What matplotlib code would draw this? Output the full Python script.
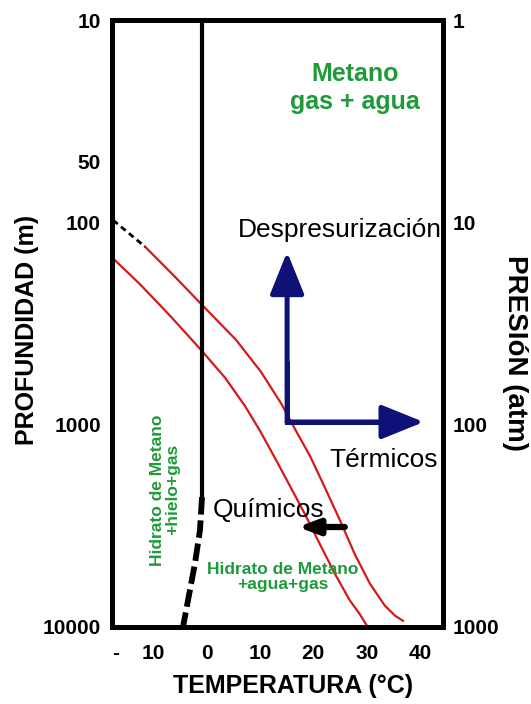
import numpy as np
import matplotlib
matplotlib.use('Agg')
import matplotlib.pyplot as plt

plt.rcParams['font.family'] = ['Liberation Sans', 'DejaVu Sans']

# hydrate stability curves (temperature in C, depth in m)
upper_t = [-11.5, -5.9, -0.1, 5.5, 10.2, 14.0, 16.8, 19.4, 22.2, 25.0, 27.8, 30.6, 33.4, 35.3, 36.8]
upper_d = [132, 186, 268, 380, 548, 787, 1078, 1430, 2052, 2970, 4380, 6100, 7840, 8780, 9320]
lower_t = [-17.7, -12.4, -6.8, -1.2, 3.5, 7.2, 10.0, 12.8, 15.6, 18.4, 21.2, 24.0, 26.8, 28.7, 30.2]
lower_d = [149, 203, 290, 422, 587, 808, 1070, 1457, 2002, 2757, 3875, 5425, 7360, 8630, 10000]
dotted_t = [-17.5, -11.5]
dotted_d = [97.5, 132]

# ice line
ice_t = [-0.78, -0.78]
ice_d = [10, 2280]
ice_dash_t = [-0.84, -1.22, -2.15, -4.4]
ice_dash_d = [2280, 3320, 4830, 10000]

# axes ticks
depth_ticks = [10, 50, 100, 1000, 10000]
depth_labels = ['10', '50', '100', '1000', '10000']
press_ticks = [1, 10, 100, 1000]
press_labels = ['1', '10', '100', '1000']
temp_ticks = [-17.1, -10, 0, 10, 20, 30, 40]
temp_labels = ['-', '10', '0', '10', '20', '30', '40']

# arrows
arrow_base = (15.1, 970)
arrow_up_tip = (15.1, 140)
arrow_right_tip = (40.7, 970)
chem_start = (25.9, 3205)
chem_tip = (17.1, 3205)

green = '#1f9a3a'
red = '#d41a1a'
navy = '#0e1276'

fig = plt.figure(figsize=(5.31, 7.04), dpi=100)
ax = fig.add_axes([112/531, 1-627/704, 331/531, 607/704])
ax.set_yscale('log')
ax.set_xlim(-17.7, 44.3)
ax.set_ylim(10000, 10)

ax.plot(upper_t, upper_d, color=red, lw=1.6, solid_joinstyle='round')
ax.plot(lower_t, lower_d, color=red, lw=1.6, solid_joinstyle='round')
ax.plot(dotted_t, dotted_d, color='black', lw=2, ls=(0, (2.2, 1.5)))
ax.plot(ice_t, ice_d, color='black', lw=3, solid_capstyle='butt')
ax.plot(ice_dash_t, ice_dash_d, color='black', lw=4.2, ls=(0, (3, 1)))

# blue arrows
ax.plot([arrow_up_tip[0], arrow_base[0], arrow_right_tip[0] - 5],
        [arrow_base[1] * 0.5, arrow_base[1], arrow_base[1]],
        color=navy, lw=3.6, solid_joinstyle='miter', solid_capstyle='butt')
for tip in (arrow_up_tip, arrow_right_tip):
    ax.annotate('', xy=tip, xytext=arrow_base,
                arrowprops=dict(arrowstyle='-|>,head_length=2.6,head_width=1.05',
                                mutation_scale=10, color=navy, lw=3.6,
                                shrinkA=0, shrinkB=0))
ax.annotate('', xy=chem_tip, xytext=chem_start,
            arrowprops=dict(arrowstyle='-|>,head_length=1.2,head_width=0.45',
                            mutation_scale=10, color='black', lw=4.5,
                            shrinkA=0, shrinkB=0))

# texts
ax.text(27.8, 21.7, 'Metano\ngas + agua', color=green, fontsize=18, fontweight='bold',
        ha='center', va='center', linespacing=1.25)
ax.text(5.9, 118.6, 'Despresurización', fontsize=19, ha='left', va='baseline', zorder=1)
ax.text(43.4, 1627, 'Térmicos', fontsize=19, ha='right', va='baseline')
ax.text(1.2, 2853, 'Químicos', fontsize=19, ha='left', va='baseline')
ax.text(14.3, 5660, 'Hidrato de Metano\n+agua+gas', color=green, fontsize=12.5,
        fontweight='bold', ha='center', va='center', linespacing=1.0)
ax.text(-7.8, 2100, 'Hidrato de Metano\n+hielo+gas', color=green, fontsize=12.5,
        fontweight='bold', ha='center', va='center', rotation=90, linespacing=1.05)

ax.set_yticks(depth_ticks)
ax.set_yticklabels(depth_labels)
ax.yaxis.set_minor_locator(matplotlib.ticker.NullLocator())
ax.set_xticks(temp_ticks)
ax.set_xticklabels(temp_labels)
ax.tick_params(axis='both', length=0, labelsize=15)
ax.tick_params(axis='y', pad=8)
ax.tick_params(axis='x', pad=12)
for lbl in ax.get_xticklabels() + ax.get_yticklabels():
    lbl.set_fontweight('bold')

ax2 = ax.twinx()
ax2.set_yscale('log')
ax2.set_ylim(1000, 1)
ax2.set_yticks(press_ticks)
ax2.set_yticklabels(press_labels)
ax2.yaxis.set_minor_locator(matplotlib.ticker.NullLocator())
ax2.tick_params(axis='y', length=0, labelsize=15, pad=7)
for lbl in ax2.get_yticklabels():
    lbl.set_fontweight('bold')

for a in (ax, ax2):
    for sp in a.spines.values():
        sp.set_linewidth(3.6)
        sp.set_zorder(10)

fig.text(27/531, 1-330/704, 'PROFUNDIDAD (m)', rotation=90, fontsize=18, fontweight='bold',
         ha='center', va='center')
fig.text(515/531, 1-353/704, 'PRESIóN (atm)', rotation=-90, fontsize=20, fontweight='bold',
         ha='center', va='center')
fig.text(293/531, 1-686/704, 'TEMPERATURA (°C)', fontsize=18, fontweight='bold',
         ha='center', va='center')

fig.savefig('out.png', dpi=100, facecolor='white')
